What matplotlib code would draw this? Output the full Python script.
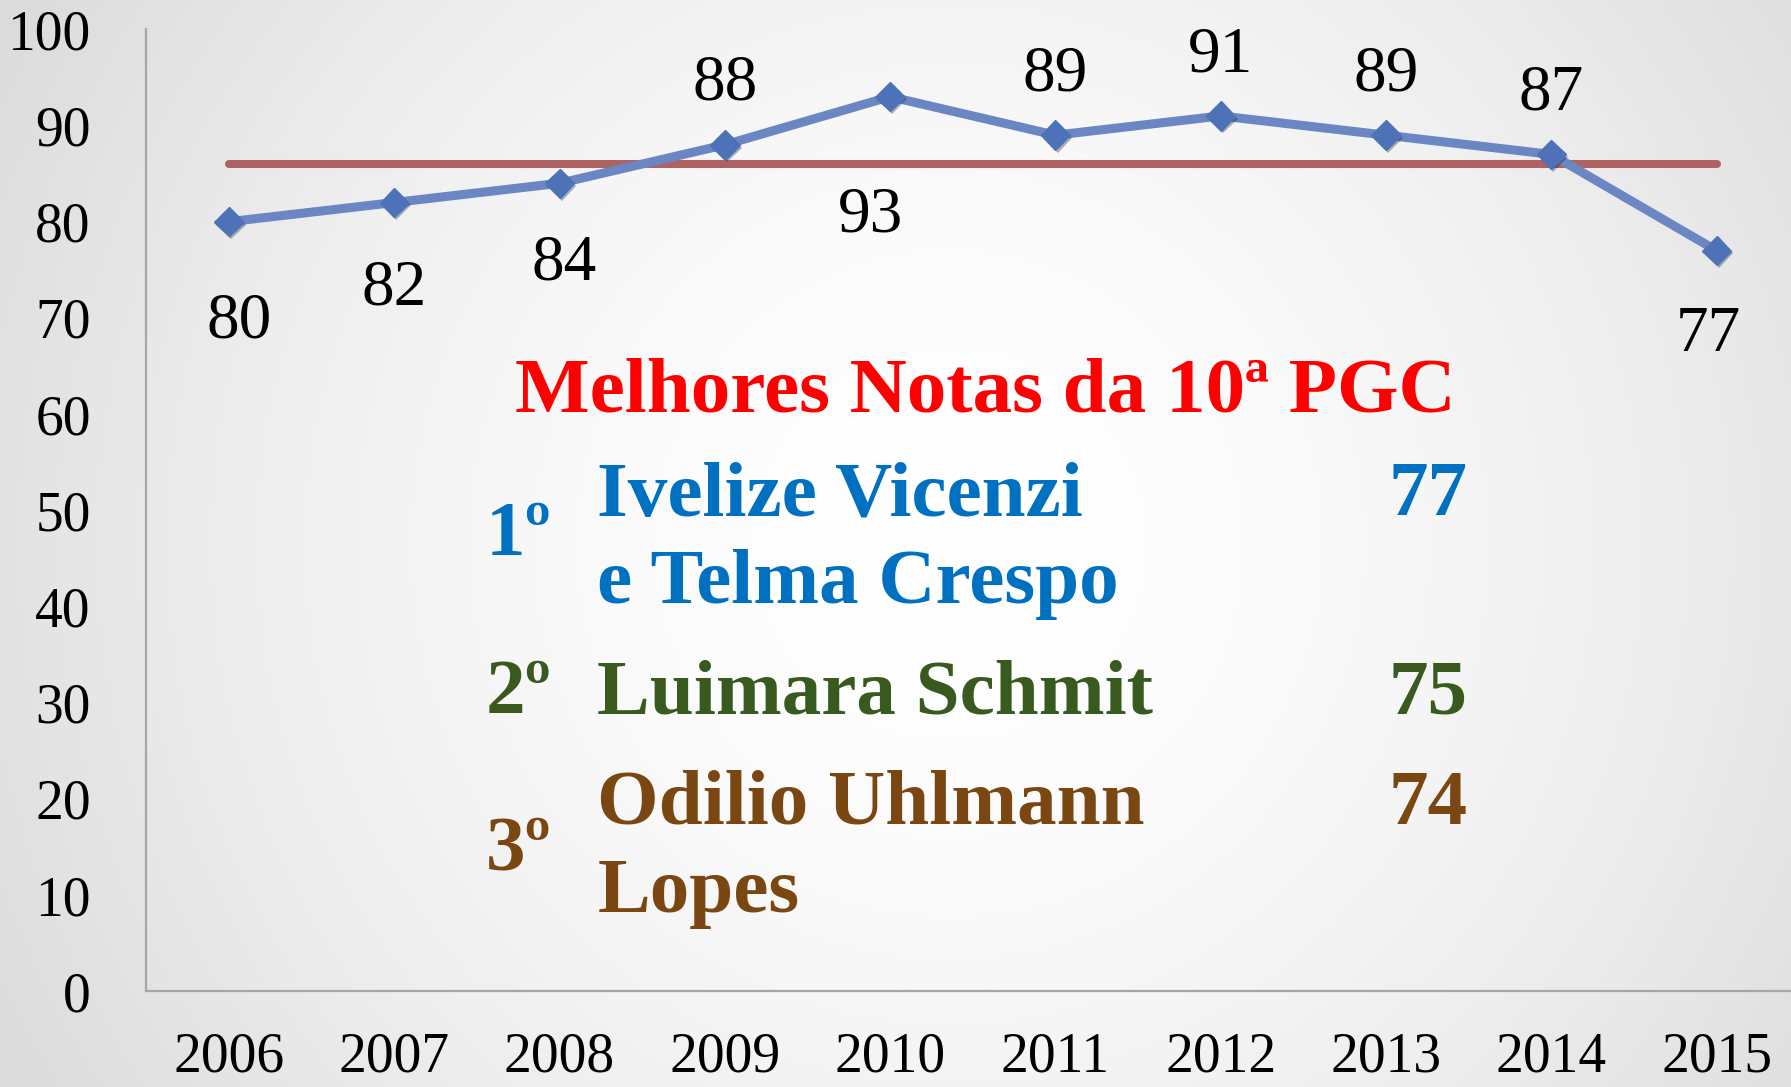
import numpy as np
import matplotlib
matplotlib.use("Agg")
import matplotlib.pyplot as plt
import matplotlib.patheffects as pe

# data
years = ["2006", "2007", "2008", "2009", "2010", "2011", "2012", "2013", "2014", "2015"]
scores = [80, 82, 84, 88, 93, 89, 91, 89, 87, 77]
average = np.mean(scores)

# label offsets (data units) so labels sit where the original put them
label_dx = [0.06, 0.0, 0.03, 0.0, -0.12, 0.0, 0.0, 0.0, 0.0, -0.05]
label_dy = [-10.4, -9.0, -8.4, 6.3, -12.4, 6.3, 6.3, 6.3, 6.3, -8.8]

# ranking box
title = "Melhores Notas da 10ª PGC"
places = ["1º", "2º", "3º"]
names = [["Ivelize Vicenzi", "e Telma Crespo"], ["Luimara Schmit"], ["Odilio Uhlmann", "Lopes"]]
notes = ["77", "75", "74"]

plt.rcParams['font.family'] = ['Liberation Serif', 'DejaVu Serif']

W, H = 1791, 1087
fig = plt.figure(figsize=(W / 100, H / 100), dpi=100)

# radial grey-to-white background
bg = fig.add_axes([0, 0, 1, 1], zorder=-10)
yy, xx = np.mgrid[0:H, 0:W]
r = np.hypot((xx - 0.53 * W) / W, (yy - 0.5 * H) / W)
val = 1 - 0.14 * np.clip(r / 0.6, 0, 1) ** 1.7
bg.imshow(np.dstack([val, val, val]), aspect='auto', extent=[0, 1, 0, 1])
bg.axis('off')

ax = fig.add_axes([0.0817, 0.088, 0.9183, 0.885])
ax.set_facecolor('none')
x = np.arange(len(years))

ax.plot(x, [average] * len(x), color='#AF6262', lw=5.8, solid_capstyle='round', zorder=2)
ax.plot(x, scores, color='#6A86C3', lw=6.5, zorder=3)
ax.plot(x, scores, ls='none', marker='D', ms=15, color='#4E72B8', zorder=4,
        path_effects=[pe.SimplePatchShadow(offset=(1.5, -2), alpha=0.35), pe.Normal()])

for i, v in enumerate(scores):
    ax.text(x[i] + label_dx[i], v + label_dy[i], str(v), fontsize=47,
            ha='center', va='center', color='black', zorder=5)

ax.set_xlim(-0.5, 9.45)
ax.set_ylim(0, 100)
ax.set_yticks(range(0, 101, 10))
ax.set_xticks(x)
ax.set_xticklabels(years)
ax.tick_params(axis='both', length=0, labelsize=40, colors='black')
ax.tick_params(axis='x', pad=29)
ax.tick_params(axis='y', pad=40)
for s in ['top', 'right']:
    ax.spines[s].set_visible(False)
for s in ['left', 'bottom']:
    ax.spines[s].set_color('#A6A6A6')
    ax.spines[s].set_linewidth(1.6)

# ranking text block
fig.text(0.550, 0.638, title, color='#FF0000', fontsize=57, fontweight='bold',
         ha='center', va='center')

colors = ['#0070C0', '#385A1E', '#7A4712']
place_y = [0.506, 0.361, 0.217]
name_y = [[0.543, 0.462], [0.361], [0.2593, 0.178]]
for k in range(3):
    fig.text(0.271, place_y[k], places[k], color=colors[k], fontsize=57,
             fontweight='bold', ha='left', va='center')
    for line, yl in zip(names[k], name_y[k]):
        fig.text(0.3335, yl, line, color=colors[k], fontsize=57,
                 fontweight='bold', ha='left', va='center')
    fig.text(0.8196, name_y[k][0], notes[k], color=colors[k], fontsize=57,
             fontweight='bold', ha='right', va='center')

fig.savefig('out.png', dpi=100)
